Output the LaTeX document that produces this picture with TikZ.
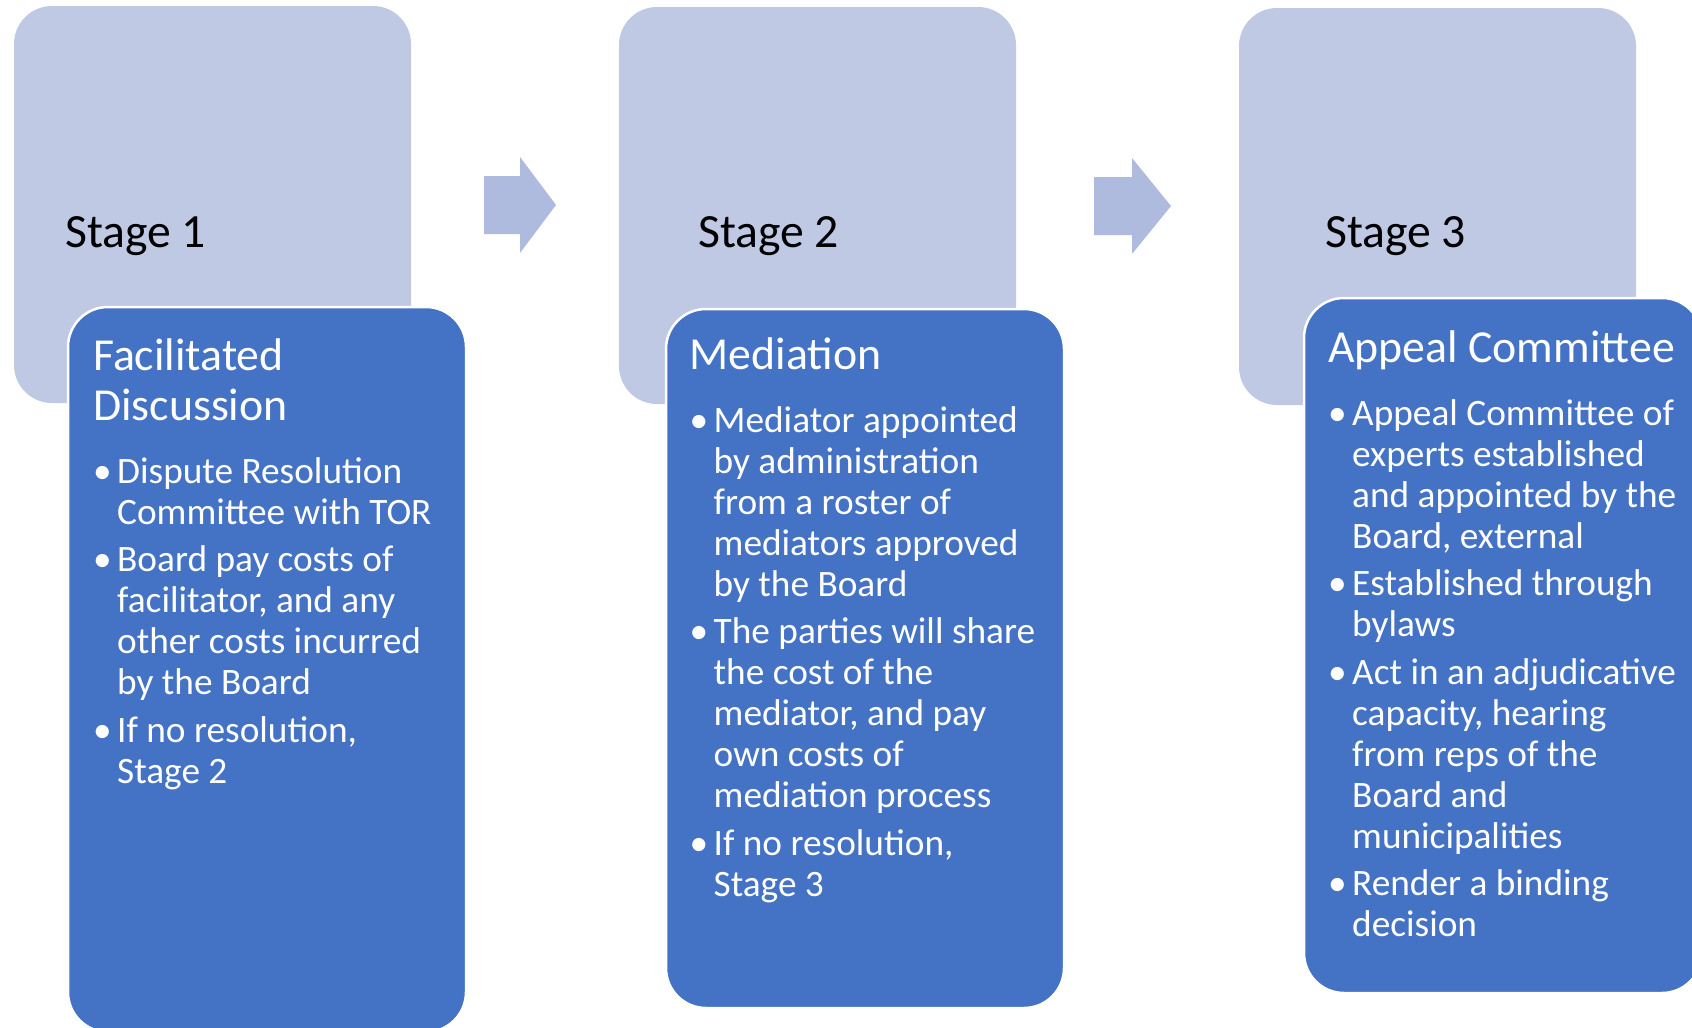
\documentclass[tikz,border=0pt]{standalone}
\usepackage{fontspec}
\setmainfont{Carlito}

\definecolor{stagefill}{HTML}{BFC9E3}
\definecolor{blockfill}{HTML}{4472C4}
\definecolor{arrowfill}{HTML}{AFBBDE}

\newcommand{\wordgap}{\spaceskip=0.226em plus 0.1em\relax\xspaceskip=\spaceskip}
\newcommand{\titlefont}{\fontsize{45.8}{50}\selectfont\wordgap}
\newcommand{\listfont}{\fontsize{37.3}{41}\selectfont\wordgap}
% every line is its own box, baselines one \baselineskip apart
\newdimen\nlindent
\newcommand{\nl}{\egroup\hbox\bgroup\hskip\nlindent\relax}
\newcommand{\btitle}[1]{\par{\titlefont\nlindent=0pt\hbox\bgroup\strut#1\egroup}\vskip15.5pt\listfont\nlindent=24pt\relax}
\newcommand{\bitem}[1]{\vskip6.5pt\hbox\bgroup\makebox[24pt][l]{\textbullet}#1\egroup}

\begin{document}
\begin{tikzpicture}[x=1pt,y=-1pt,
  stagebox/.style={fill=stagefill,rounded corners=38pt,minimum width=397pt,minimum height=397pt,inner sep=0pt},
  blockbox/.style={fill=blockfill,draw=white,line width=2.5pt,rounded corners=40pt,minimum width=398pt,inner sep=0pt},
  stagelabel/.style={anchor=base west,inner sep=0pt,font=\fontsize{47.7}{56}\selectfont},
  blocktext/.style={anchor=north west,inner sep=0pt,text width=420pt,text=white}]
\useasboundingbox (0,0) rectangle (1692,1028);

\node[stagebox] (sb1) at (212.5,204.5) {};
\node[stagebox] (sb2) at (817.5,205.5) {};
\node[stagebox] (sb3) at (1437.5,206.5) {};

\node[stagelabel] (st1) at (65,247) {Stage 1};
\node[stagelabel] (st2) at (698,247) {Stage 2};
\node[stagelabel] (st3) at (1325,247) {Stage 3};

\fill[arrowfill] (484,176) -- (520,176) -- (520,157) -- (556,205) -- (520,253) -- (520,234) -- (484,234) -- cycle;
\fill[arrowfill] (1094,177) -- (1132,177) -- (1132,158) -- (1171,206) -- (1132,254) -- (1132,235) -- (1094,235) -- cycle;

\node[blockbox,minimum height=725pt] (bb1) at (267,669.5) {};
\node[blockbox,minimum height=699pt] (bb2) at (865,658.5) {};
\node[blockbox,minimum height=695pt] (bb3) at (1503,645.5) {};

\node[blocktext] (bt1) at (93,320) {%
  \btitle{Facilitated\nl Discussion}
  \bitem{Dispute Resolution\nl Committee with TOR}
  \bitem{Board pay costs of\nl facilitator, and any\nl other costs incurred\nl by the Board}
  \bitem{If no resolution,\nl Stage 2}};
\node[blocktext] (bt2) at (689.5,319) {%
  \btitle{Mediation}
  \bitem{Mediator appointed\nl by administration\nl from a roster of\nl mediators approved\nl by the Board}
  \bitem{The parties will share\nl the cost of the\nl mediator, and pay\nl own costs of\nl mediation process}
  \bitem{If no resolution,\nl Stage 3}};
\node[blocktext] (bt3) at (1328,312) {%
  \btitle{Appeal Committee}
  \bitem{Appeal Committee of\nl experts established\nl and appointed by the\nl Board, external}
  \bitem{Established through\nl bylaws}
  \bitem{Act in an adjudicative\nl capacity, hearing\nl from reps of the\nl Board and\nl municipalities}
  \bitem{Render a binding\nl decision}};
\end{tikzpicture}
\end{document}
